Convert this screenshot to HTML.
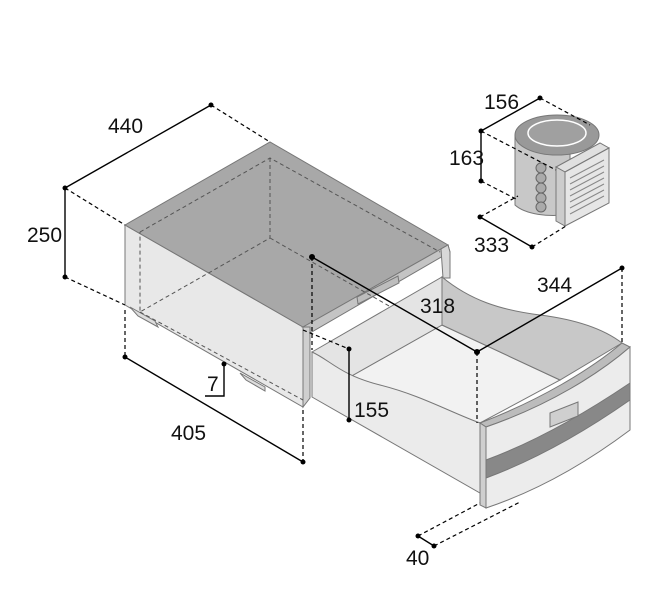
<!DOCTYPE html>
<html><head><meta charset="utf-8"><style>
html,body{margin:0;padding:0;background:#fff}
svg{display:block}
text{font-family:"Liberation Sans",sans-serif;font-size:21px;fill:#111}
</style></head><body>
<svg width="661" height="600" viewBox="0 0 661 600" xmlns="http://www.w3.org/2000/svg">
<g stroke="#777" stroke-width="1">
<!-- cabinet -->
<polygon points="125,225 125,305 303,407 303,327" fill="#e8e8e8"/>
<polygon points="303,327 310,327 310,398 303,407" fill="#cfcfcf"/>
<polygon points="125,225 270,142 448,245 303,327" fill="#a8a8a8"/>
<polygon points="303,327 448,245 450,252 310,333 310,327" fill="#c4c4c4"/>
<polygon points="441,249 448,245 450,252 450,278 443,278" fill="#d8d8d8"/>
<polygon points="357,297 398,276 399,283 358,304" fill="#bdbdbd"/>
<polygon points="130,307 155,321 158,327 138,316" fill="#ddd"/>
<polygon points="240,373 265,387 265,391 246,380" fill="#ddd"/>
</g>
<g stroke="#555" stroke-width="1" stroke-dasharray="4,3" fill="none">
<polyline points="140,232 270,158 440,252"/>
<polyline points="270,158 270,238 140,312 140,232"/>
<line x1="270" y1="238" x2="440" y2="335"/>
<line x1="140" y1="312" x2="303" y2="400"/>
</g>
<!-- drawer -->
<g stroke="#777" stroke-width="1">
<polygon points="348,378 442,325 560,380 480,423" fill="#f2f2f2"/>
<polygon points="312,352 442,277 442,325 348,378" fill="#e4e4e4"/>
<path d="M442,277 C470,300 500,310 540,315 C580,320 605,330 622,343 L560,380 L442,325 Z" fill="#c8c8c8"/>
<path d="M312,352 C330,360 340,375 380,385 C420,395 450,412 480,423 L480,493 L312,397 Z" fill="#ebebeb"/>
<path d="M480,423 C540,400 590,370 622,343 L630,347 C600,373 550,405 486,427 Z" fill="#bcbcbc"/>
<path d="M486,427 C550,405 600,373 630,347 L630,430 C590,460 540,490 486,508 Z" fill="#ececec"/>
<path d="M486,460 C540,440 590,410 630,383 L630,400 C590,428 540,458 486,478 Z" fill="#888"/>
<polygon points="480,423 486,427 486,508 480,505" fill="#cfcfcf"/>
<polygon points="550,413 578,402 578,416 550,427" fill="#cfcfcf"/>
</g>
<!-- compressor -->
<g stroke="#777" stroke-width="1">
<path d="M515,135 L515,205 A42,18 0 0 0 570,214 L570,140 Z" fill="#c8c8c8"/>
<ellipse cx="557" cy="135" rx="42" ry="20" fill="#999"/>
<ellipse cx="557" cy="133" rx="29" ry="13" fill="#a0a0a0" stroke="#fff" stroke-width="1.5"/>
<g fill="#aaa" stroke="#666"><circle cx="541" cy="168" r="5"/><circle cx="541" cy="178" r="5"/><circle cx="541" cy="188" r="5"/><circle cx="541" cy="198" r="5"/><circle cx="541" cy="207" r="5"/></g>
<polygon points="556,167 600,143 609,148 565,172" fill="#e0e0e0"/>
<polygon points="556,167 565,172 565,226 556,221" fill="#ccc"/>
<polygon points="565,172 609,148 609,203 565,226" fill="#e6e6e6"/>
<g stroke="#888"><line x1="570" y1="178" x2="604" y2="160"/><line x1="570" y1="184" x2="604" y2="166"/><line x1="570" y1="190" x2="604" y2="172"/><line x1="570" y1="196" x2="604" y2="178"/><line x1="570" y1="202" x2="604" y2="184"/><line x1="570" y1="208" x2="604" y2="190"/><line x1="570" y1="214" x2="604" y2="196"/></g>
</g>
<!-- dimensions -->
<g stroke="#000" stroke-width="1.4" fill="none">
<line x1="65" y1="188" x2="211" y2="105"/>
<line x1="65" y1="188" x2="65" y2="277"/>
<line x1="125" y1="357" x2="303" y2="462"/>
<polyline points="224,364 224,396 205,396"/>
<line x1="312" y1="257" x2="477" y2="352"/>
<line x1="477" y1="352" x2="622" y2="268"/>
<line x1="349" y1="349" x2="349" y2="420"/>
<line x1="418" y1="536" x2="434" y2="546"/>
<line x1="481" y1="131" x2="540" y2="98"/>
<line x1="481" y1="131" x2="481" y2="181"/>
<line x1="480" y1="217" x2="532" y2="247"/>
</g>
<g stroke="#000" stroke-width="1.2" stroke-dasharray="4,3" fill="none">
<line x1="211" y1="105" x2="270" y2="142"/>
<line x1="65" y1="188" x2="125" y2="225"/>
<line x1="65" y1="277" x2="125" y2="305"/>
<line x1="125" y1="310" x2="125" y2="357"/>
<line x1="303" y1="410" x2="303" y2="462"/>
<line x1="312" y1="257" x2="312" y2="350"/>
<line x1="477" y1="352" x2="477" y2="423"/>
<line x1="622" y1="268" x2="622" y2="343"/>
<line x1="303" y1="330" x2="349" y2="349"/>
<line x1="418" y1="536" x2="480" y2="503"/>
<line x1="434" y1="546" x2="520" y2="502"/>
<line x1="540" y1="98" x2="590" y2="125"/>
<line x1="481" y1="131" x2="556" y2="170"/>
<line x1="481" y1="181" x2="518" y2="200"/>
<line x1="480" y1="217" x2="518" y2="196"/>
<line x1="532" y1="247" x2="566" y2="226"/>
</g>
<g fill="#000">
<circle cx="65" cy="188" r="2.5"/><circle cx="211" cy="105" r="2.5"/><circle cx="65" cy="277" r="2.5"/>
<circle cx="125" cy="357" r="2.5"/><circle cx="303" cy="462" r="2.5"/><circle cx="224" cy="364" r="2.5"/>
<circle cx="312" cy="257" r="3"/><circle cx="477" cy="352" r="3"/><circle cx="622" cy="268" r="2.5"/>
<circle cx="349" cy="349" r="2.5"/><circle cx="349" cy="420" r="2.5"/>
<circle cx="418" cy="536" r="2.5"/><circle cx="434" cy="546" r="2.5"/>
<circle cx="481" cy="131" r="2.5"/><circle cx="540" cy="98" r="2.5"/><circle cx="481" cy="181" r="2.5"/>
<circle cx="480" cy="217" r="2.5"/><circle cx="532" cy="247" r="2.5"/>
</g>
<text x="108" y="133">440</text>
<text x="27" y="242">250</text>
<text x="171" y="440">405</text>
<text x="207" y="391">7</text>
<text x="420" y="313">318</text>
<text x="537" y="292">344</text>
<text x="354" y="417">155</text>
<text x="406" y="565">40</text>
<text x="484" y="109">156</text>
<text x="449" y="165">163</text>
<text x="474" y="252">333</text>
</svg>
</body></html>
